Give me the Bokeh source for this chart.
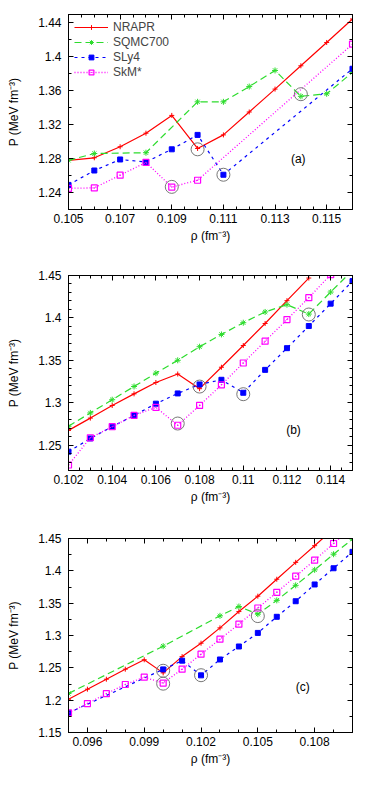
import numpy as np
from bokeh.plotting import figure
from bokeh.layouts import column
from bokeh.models import (Range1d, FixedTicker, PrintfTickFormatter, LinearAxis,
                          Label)
from bokeh.embed import file_html
from bokeh.resources import INLINE

# ---------------- data ----------------
# panel (a)
xa_nrapr = [0.105, 0.106, 0.107, 0.108, 0.109, 0.110, 0.111, 0.112, 0.113, 0.114, 0.115, 0.116]
ya_nrapr = [1.278, 1.281, 1.294, 1.310, 1.331, 1.292, 1.308, 1.335, 1.362, 1.3895, 1.417, 1.4447]
xa_sqmc = [0.105, 0.106, 0.108, 0.110, 0.111, 0.112, 0.113, 0.114, 0.115, 0.116]
ya_sqmc = [1.278, 1.286, 1.287, 1.347, 1.347, 1.365, 1.384, 1.3535, 1.3565, 1.3817]
xa_sly4 = [0.105, 0.106, 0.107, 0.108, 0.109, 0.110, 0.111, 0.116]
ya_sly4 = [1.249, 1.266, 1.279, 1.276, 1.291, 1.308, 1.261, 1.386]
xa_skm = [0.105, 0.106, 0.107, 0.108, 0.109, 0.110, 0.116]
ya_skm = [1.245, 1.2455, 1.2605, 1.2755, 1.2465, 1.2545, 1.415]
xa_circ = [0.110, 0.109, 0.111, 0.114]
ya_circ = [1.291, 1.2467, 1.261, 1.356]

# panel (b)
xb_nrapr = [0.102, 0.103, 0.104, 0.105, 0.106, 0.107, 0.108, 0.109, 0.110, 0.111, 0.112, 0.113]
yb_nrapr = [1.2673, 1.2818, 1.2967, 1.3104, 1.3238, 1.3338, 1.3165, 1.3418, 1.3674, 1.3934, 1.4203, 1.447]
xb_sqmc = [0.102, 0.103, 0.104, 0.105, 0.106, 0.107, 0.108, 0.109, 0.110, 0.111, 0.112, 0.113, 0.114, 0.115]
yb_sqmc = [1.2722, 1.2879, 1.3035, 1.3191, 1.3348, 1.350, 1.366, 1.3805, 1.3943, 1.407, 1.4156, 1.4045, 1.4305, 1.456]
xb_sly4 = [0.102, 0.103, 0.104, 0.105, 0.106, 0.107, 0.108, 0.109, 0.110, 0.111, 0.112, 0.113, 0.114, 0.115]
yb_sly4 = [1.2422, 1.2578, 1.2717, 1.285, 1.2988, 1.3109, 1.3215, 1.327, 1.3117, 1.3387, 1.3643, 1.3904, 1.4168, 1.4434]
xb_skm = [0.102, 0.103, 0.104, 0.105, 0.106, 0.107, 0.108, 0.109, 0.110, 0.111, 0.112, 0.113, 0.114]
yb_skm = [1.2265, 1.2586, 1.2717, 1.285, 1.2945, 1.2734, 1.2967, 1.321, 1.3468, 1.3725, 1.398, 1.4239, 1.451]
xb_circ = [0.108, 0.107, 0.110, 0.113]
yb_circ = [1.319, 1.2754, 1.310, 1.404]

# panel (c)
xc_nrapr = [0.095, 0.096, 0.097, 0.098, 0.099, 0.100, 0.101, 0.102, 0.103, 0.104, 0.105, 0.106, 0.107, 0.108, 0.109]
yc_nrapr = [1.2015, 1.217, 1.2324, 1.2479, 1.2625, 1.2422, 1.2674, 1.2881, 1.3118, 1.337, 1.3608, 1.387, 1.4131, 1.4389, 1.465]
xc_sqmc = [0.095, 0.100, 0.103, 0.104, 0.105, 0.106, 0.107, 0.108, 0.109, 0.110]
yc_sqmc = [1.2103, 1.2835, 1.3304, 1.3448, 1.333, 1.3543, 1.3776, 1.4015, 1.4257, 1.449]
xc_sly4 = [0.095, 0.100, 0.101, 0.102, 0.103, 0.104, 0.105, 0.106, 0.107, 0.108, 0.109, 0.110]
yc_sly4 = [1.1803, 1.2476, 1.2611, 1.2384, 1.2629, 1.283, 1.304, 1.3289, 1.353, 1.3789, 1.404, 1.4293]
xc_skm = [0.095, 0.096, 0.097, 0.098, 0.099, 0.100, 0.101, 0.102, 0.103, 0.104, 0.105, 0.106, 0.107, 0.108, 0.109, 0.110]
yc_skm = [1.1803, 1.1948, 1.2101, 1.2242, 1.2355, 1.2265, 1.2479, 1.2711, 1.2943, 1.3175, 1.3425, 1.3667, 1.3917, 1.4165, 1.4423, 1.468]
xc_circ = [0.100, 0.100, 0.102, 0.105]
yc_circ = [1.2455, 1.2255, 1.2386, 1.330]

# axis ticks
xa_ticks = [0.105, 0.107, 0.109, 0.111, 0.113, 0.115]
ya_ticks = [1.24, 1.28, 1.32, 1.36, 1.40, 1.44]
xb_ticks = [0.102, 0.104, 0.106, 0.108, 0.110, 0.112, 0.114]
yb_ticks = [1.25, 1.30, 1.35, 1.40, 1.45]
xc_ticks = [0.096, 0.099, 0.102, 0.105, 0.108]
yc_ticks = [1.15, 1.20, 1.25, 1.30, 1.35, 1.40, 1.45]

names = ["NRAPR", "SQMC700", "SLy4", "SkM*"]

FONT = "Liberation Sans"
RED, GREEN, BLUE, MAG = "#ff0000", "#2ddc2d", "#0000ff", "#ff00ff"


def minor(a, b, step):
    return [round(v, 5) for v in np.arange(a, b + step / 2, step)]


def make_panel(xr, yr, xt, yt, xminor, yminor, series, circ, tag, tagpos,
               height, top, bottom, legend=False):
    p = figure(width=362, height=height, output_backend="svg", toolbar_location=None,
               x_range=Range1d(*xr), y_range=Range1d(*yr),
               min_border_left=68, min_border_right=10,
               min_border_top=top, min_border_bottom=bottom,
               background_fill_color="white", border_fill_color="white")
    p.outline_line_color = "black"
    p.outline_line_width = 1
    p.xgrid.visible = False
    p.ygrid.visible = False

    xtick = FixedTicker(ticks=xt, minor_ticks=xminor)
    ytick = FixedTicker(ticks=yt, minor_ticks=yminor)
    fmt = PrintfTickFormatter(format="%g")

    def style(ax):
        ax.major_tick_in = 5
        ax.major_tick_out = 0
        ax.minor_tick_in = 3
        ax.minor_tick_out = 0
        ax.axis_line_color = "black"
        ax.major_tick_line_color = "black"
        ax.minor_tick_line_color = "black"
        ax.major_label_text_font = FONT
        ax.major_label_text_font_size = "12px"
        ax.major_label_text_color = "black"
        ax.axis_label_text_font = FONT
        ax.axis_label_text_font_size = "12px"
        ax.axis_label_text_font_style = "normal"
        ax.axis_label_text_color = "black"

    xa = p.xaxis[0]
    xa.ticker = xtick
    xa.formatter = fmt
    style(xa)
    xa.major_label_standoff = 4
    xa.axis_label = "ρ (fm⁻³)"
    xa.axis_label_standoff = 3

    ya = p.yaxis[0]
    ya.ticker = ytick
    ya.formatter = fmt
    style(ya)
    ya.major_label_standoff = 7
    ya.axis_label = "P (MeV fm⁻³)"
    ya.axis_label_standoff = 14

    top_ax = LinearAxis(ticker=xtick, formatter=PrintfTickFormatter(format=""))
    style(top_ax)
    top_ax.major_label_standoff = 0
    p.add_layout(top_ax, "above")
    right_ax = LinearAxis(ticker=ytick, formatter=PrintfTickFormatter(format=""))
    style(right_ax)
    right_ax.major_label_standoff = 0
    p.add_layout(right_ax, "right")

    (xn, yn), (xs, ys), (xl, yl), (xk, yk) = series
    lab = (lambda n: dict(legend_label=n)) if legend else (lambda n: {})

    p.line(xn, yn, line_color=RED, line_width=1.2, **lab(names[0]))
    p.scatter(xn, yn, marker="cross", size=5, line_color=RED, line_width=1, **lab(names[0]))
    p.line(xs, ys, line_color=GREEN, line_width=1.2, line_dash="7 4", **lab(names[1]))
    p.scatter(xs, ys, marker="asterisk", size=6, line_color=GREEN, line_width=1, **lab(names[1]))
    p.line(xl, yl, line_color=BLUE, line_width=1.2, line_dash="3 4", **lab(names[2]))
    p.scatter(xl, yl, marker="square", size=5, line_color=BLUE, fill_color=BLUE, **lab(names[2]))
    p.line(xk, yk, line_color=MAG, line_width=1.3, line_dash="1 2", **lab(names[3]))
    p.scatter(xk, yk, marker="square_dot", size=6, line_color=MAG, fill_color=None,
              line_width=1.2, **lab(names[3]))

    p.scatter(circ[0], circ[1], marker="circle", size=13, line_color="#777777",
              fill_color=None, line_width=1)

    p.add_layout(Label(x=tagpos[0], y=tagpos[1], text=tag, text_font=FONT,
                       text_font_size="12px", text_align="center",
                       text_baseline="middle", text_color="black"))

    if legend:
        lg = p.legend[0]
        lg.location = "top_left"
        lg.background_fill_alpha = 0
        lg.border_line_alpha = 0
        lg.label_text_font = FONT
        lg.label_text_font_size = "12px"
        lg.label_height = 12
        lg.glyph_height = 12
        lg.glyph_width = 34
        lg.spacing = 1
        lg.padding = 2
        lg.margin = 4
        lg.label_standoff = 5
    return p


pa = make_panel((0.105, 0.116), (1.22, 1.45), xa_ticks, ya_ticks,
                minor(0.105, 0.116, 0.0005), minor(1.22, 1.45, 0.02),
                [(xa_nrapr, ya_nrapr), (xa_sqmc, ya_sqmc), (xa_sly4, ya_sly4), (xa_skm, ya_skm)],
                (xa_circ, ya_circ), "(a)", (0.1139, 1.279), 270, 14, 61, legend=True)
pb = make_panel((0.102, 0.115), (1.22, 1.45), xb_ticks, yb_ticks,
                minor(0.102, 0.115, 0.0005), minor(1.22, 1.45, 0.01),
                [(xb_nrapr, yb_nrapr), (xb_sqmc, yb_sqmc), (xb_sly4, yb_sly4), (xb_skm, yb_skm)],
                (xb_circ, yb_circ), "(b)", (0.1123, 1.2683), 262, 5, 62)
pc = make_panel((0.095, 0.110), (1.15, 1.45), xc_ticks, yc_ticks,
                minor(0.095, 0.110, 0.001), minor(1.15, 1.45, 0.025),
                [(xc_nrapr, yc_nrapr), (xc_sqmc, yc_sqmc), (xc_sly4, yc_sly4), (xc_skm, yc_skm)],
                (xc_circ, yc_circ), "(c)", (0.10737, 1.2205), 244, 6, 44)

layout = column(pa, pb, pc, spacing=0)
open("out.html", "w").write(file_html(layout, INLINE))
